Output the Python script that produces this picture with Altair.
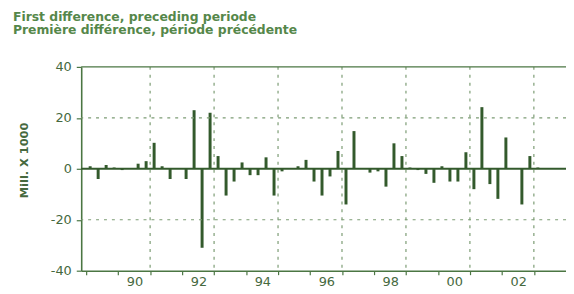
import altair as alt
import pandas as pd

# ---- data (quarterly first differences, Mill. x 1000) ----
start_year = 1989
changes = [1, -4, 1.5, 0.5, -0.5, 0.3, 2, 3, 10.2, 1, -4, 0.2, -4, 23, -31, 22, 5, -10.5, -5,
           2.5, -2.5, -2.5, 4.5, -10.5, -1, 0.3, 1, 3.5, -5, -10.5, -3, 7, -14, 14.8, 0.3, -1.5,
           -1, -7, 10, 5, 0.5, -0.5, -2, -5.5, 1, -5, -5, 6.5, -8, 24.2, -6, -11.8, 12.3, 0.3,
           -14, 5, 0.5, 0.2, 0]
y_ticks = [-40, -20, 0, 20, 40]
x_ticks = list(range(1989, 2004))
v_grid = [1991, 1993, 1995, 1997, 1999, 2001, 2003]
h_grid = [-20, 20]
zero_line = [0]
top_line = [40]
title_lines = ["First difference, preceding periode",
               "Première différence, période précédente"]
y_title = "Mill. X 1000"

BAR = "#335a2c"
AXIS = "#4b7643"
TEXT = "#46693e"
TITLE = "#55874a"
GRID = "#7c9c74"

df = pd.DataFrame({
    "t": [start_year + (i + 0.5) / 4 for i in range(len(changes))],
    "v": changes,
})

xs = alt.Scale(domain=[1989, 2003.85], nice=False, zero=False)
ys = alt.Scale(domain=[-40, 40], nice=False)

x_axis = alt.Axis(
    values=x_ticks,
    labelExpr="datum.value % 2 == 0 ? format(datum.value % 100, '02d') : ''",
    labelOffset=16.5, tickSize=4, labelPadding=1, title=None, grid=False,
    domainColor=AXIS, tickColor=AXIS, domainWidth=1.6, tickWidth=1.2,
    labelColor=TEXT, labelFont="DejaVu Sans", labelFontSize=13,
    labelFlush=False, labelOverlap=False)

y_axis = alt.Axis(
    values=y_ticks, labelExpr="toString(datum.value)",
    tickSize=5, labelPadding=5, title=y_title, grid=False,
    titleX=-52, titleY=94, titleColor=TEXT, titleFont="DejaVu Sans",
    titleFontWeight="bold", titleFontSize=11.5,
    domainColor=AXIS, tickColor=AXIS, domainWidth=1.6, tickWidth=1.2,
    labelColor=TEXT, labelFont="DejaVu Sans", labelFontSize=13)

bars = alt.Chart(df).mark_bar(size=3, color=BAR).encode(
    x=alt.X("t:Q", scale=xs, axis=x_axis),
    y=alt.Y("v:Q", scale=ys, axis=y_axis),
)

hgrid = alt.Chart(pd.DataFrame({"gy": h_grid})).mark_rule(
    strokeDash=[3, 5], color=GRID, strokeWidth=1.2
).encode(y=alt.Y("gy:Q", scale=ys, axis=y_axis))

vgrid = alt.Chart(pd.DataFrame({"gx": v_grid})).mark_rule(
    strokeDash=[3, 5], color=GRID, strokeWidth=1.2
).encode(x=alt.X("gx:Q", scale=xs, axis=x_axis))

zero = alt.Chart(pd.DataFrame({"zy": zero_line})).mark_rule(
    color=BAR, strokeWidth=2
).encode(y=alt.Y("zy:Q", scale=ys, axis=y_axis))

top = alt.Chart(pd.DataFrame({"ty": top_line})).mark_rule(
    color=AXIS, strokeWidth=1.4
).encode(y=alt.Y("ty:Q", scale=ys, axis=y_axis))

chart = alt.layer(bars, hgrid, vgrid, zero, top).properties(
    width=490,
    height=206,
    autosize=alt.AutoSizeParams(type="none"),
    padding={"left": 74, "top": 58, "right": 0, "bottom": 20},
    background="white",
    title=alt.TitleParams(
        text=title_lines, anchor="start", frame="group",
        font="DejaVu Sans", fontWeight="bold", fontSize=12.5,
        color=TITLE, dx=-69, offset=25, lineHeight=12.7),
).configure_view(stroke=None)

chart.save("out.html", embed_options={"renderer": "svg", "actions": False})
